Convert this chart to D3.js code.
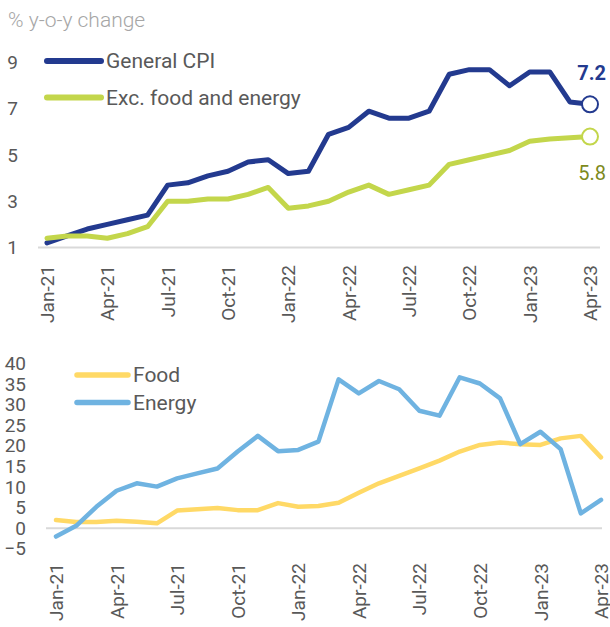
<!DOCTYPE html>
<html>
<head>
<meta charset="utf-8">
<script src="https://cdn.jsdelivr.net/npm/d3@7"></script>
<style>
  html, body { margin: 0; padding: 0; background: #fff; }
  svg { display: block; font-family: Roboto, "Noto Sans", sans-serif; }
</style>
</head>
<body>
<div id="chart"></div>
<script>
// months shown on both x axes
const months = [
  "Jan-21","Feb-21","Mar-21","Apr-21","May-21","Jun-21","Jul-21","Aug-21","Sep-21","Oct-21","Nov-21","Dec-21",
  "Jan-22","Feb-22","Mar-22","Apr-22","May-22","Jun-22","Jul-22","Aug-22","Sep-22","Oct-22","Nov-22","Dec-22",
  "Jan-23","Feb-23","Mar-23","Apr-23"
];
const tickMonths = months.filter((d, i) => i % 3 === 0);

// top panel
const generalCpi = [1.2,1.5,1.8,2.0,2.2,2.4,3.7,3.8,4.1,4.3,4.7,4.8,4.2,4.3,5.9,6.2,6.9,6.6,6.6,6.9,8.5,8.7,8.7,8.0,8.6,8.6,7.3,7.2];
const exFoodEnergy = [1.4,1.5,1.5,1.4,1.6,1.9,3.0,3.0,3.1,3.1,3.3,3.6,2.7,2.8,3.0,3.4,3.7,3.3,3.5,3.7,4.6,4.8,5.0,5.2,5.6,5.7,5.75,5.8];
const topTicks = [1, 3, 5, 7, 9];

// bottom panel
const food = [2.0,1.5,1.5,1.8,1.6,1.2,4.3,4.6,4.9,4.4,4.4,6.1,5.2,5.4,6.2,8.6,10.9,12.7,14.5,16.4,18.6,20.2,20.8,20.4,20.2,21.8,22.4,17.2];
const energy = [-2.0,0.6,5.2,9.1,10.9,10.1,12.1,13.3,14.5,18.6,22.4,18.7,19.0,21.0,36.1,32.7,35.7,33.7,28.5,27.3,36.6,35.1,31.5,20.4,23.4,19.2,3.6,6.9];
const bottomTicks = [-5, 0, 5, 10, 15, 20, 25, 30, 35, 40];

const W = 610, H = 627;
const textGray = '#595959';

const svg = d3.select('#chart').append('svg')
  .attr('width', W)
  .attr('height', H);

// title
svg.append('text')
  .attr('x', 8)
  .attr('y', 20)
  .attr('dy', '0.35em')
  .style('font-size', '21px')
  .style('font-weight', 300)
  .style('fill', '#a6a6a6')
  .text('% y-o-y change');

/**
 * Draws one panel: baseline, y labels, rotated month labels, lines.
 */
function drawPanel(opt) {
  const x = d3.scalePoint().domain(months).range([opt.x0, opt.x1]);
  const y = d3.scaleLinear().domain(opt.yDomain).range(opt.yRange);

  // baseline
  svg.append('line')
    .attr('x1', opt.gridX0).attr('x2', opt.gridX1)
    .attr('y1', y(opt.base)).attr('y2', y(opt.base))
    .style('stroke', '#d9d9d9')
    .style('stroke-width', 2);

  // y axis labels
  const yAxis = svg.append('g')
    .attr('transform', `translate(${opt.labelX},0)`)
    .call(d3.axisLeft(y).tickValues(opt.ticks).tickSize(0).tickPadding(0));
  yAxis.select('.domain').remove();
  yAxis.selectAll('text')
    .style('font-size', '19px')
    .style('font-family', 'Roboto, sans-serif')
    .style('fill', textGray);

  // x axis labels, rotated
  const xAxis = svg.append('g')
    .attr('transform', `translate(0,${opt.xLabelY})`)
    .call(d3.axisBottom(x).tickValues(tickMonths).tickSize(0));
  xAxis.select('.domain').remove();
  xAxis.selectAll('text')
    .attr('x', 0)
    .attr('y', 0)
    .attr('dy', '0.35em')
    .attr('transform', 'rotate(-90)')
    .style('text-anchor', 'end')
    .style('font-size', '19px')
    .style('font-family', 'Roboto, sans-serif')
    .style('fill', textGray);

  const line = d3.line()
    .x((d, i) => x(months[i]))
    .y(d => y(d));

  opt.series.forEach(s => {
    svg.append('path')
      .datum(s.values)
      .attr('d', line)
      .style('fill', 'none')
      .style('stroke', s.color)
      .style('stroke-width', opt.lineWidth)
      .style('stroke-linejoin', 'round')
      .style('stroke-linecap', 'round');
  });

  // legend
  opt.series.forEach((s, i) => {
    const ly = opt.legendY + i * opt.legendGap;
    svg.append('line')
      .attr('x1', opt.legendX).attr('x2', opt.legendX + opt.legendLen)
      .attr('y1', ly).attr('y2', ly)
      .style('stroke', s.color)
      .style('stroke-width', opt.lineWidth + 1)
      .style('stroke-linecap', 'round');
    svg.append('text')
      .attr('x', opt.legendX + opt.legendLen + 5)
      .attr('y', ly)
      .attr('dy', '0.35em')
      .style('font-size', '21px')
      .style('fill', textGray)
      .text(s.name);
  });

  return { x, y };
}

const topPanel = drawPanel({
  x0: 47, x1: 590,
  yDomain: [1, 9], yRange: [247.5, 62.7],
  base: 1, gridX0: 38, gridX1: 600,
  ticks: topTicks, labelX: 18,
  xLabelY: 265,
  lineWidth: 5,
  legendX: 47, legendLen: 54, legendY: 61, legendGap: 36.5,
  series: [
    { name: 'General CPI', values: generalCpi, color: '#233a8f' },
    { name: 'Exc. food and energy', values: exFoodEnergy, color: '#c3d64b' }
  ]
});

// end markers and value labels on the top panel
const lastMonth = months[months.length - 1];
[
  { v: generalCpi[generalCpi.length - 1], color: '#233a8f', labelColor: '#233a8f', dy: -31, weight: 700 },
  { v: exFoodEnergy[exFoodEnergy.length - 1], color: '#c3d64b', labelColor: '#7d8a1c', dy: 36, weight: 400 }
].forEach(m => {
  svg.append('circle')
    .attr('cx', topPanel.x(lastMonth))
    .attr('cy', topPanel.y(m.v))
    .attr('r', 8)
    .style('fill', '#fff')
    .style('stroke', m.color)
    .style('stroke-width', 2);
  svg.append('text')
    .attr('x', 606)
    .attr('y', topPanel.y(m.v) + m.dy)
    .attr('dy', '0.35em')
    .style('text-anchor', 'end')
    .style('font-size', '20px')
    .style('font-weight', m.weight)
    .style('fill', m.labelColor)
    .text(d3.format('.1f')(m.v));
});

drawPanel({
  x0: 56, x1: 601,
  yDomain: [-5, 40], yRange: [548.9, 363.3],
  base: 0, gridX0: 46, gridX1: 602,
  ticks: bottomTicks, labelX: 26,
  xLabelY: 563,
  lineWidth: 4.5,
  legendX: 77, legendLen: 51, legendY: 375, legendGap: 27.5,
  series: [
    { name: 'Food', values: food, color: '#ffd966' },
    { name: 'Energy', values: energy, color: '#6fb3e1' }
  ]
});
</script>
</body>
</html>
